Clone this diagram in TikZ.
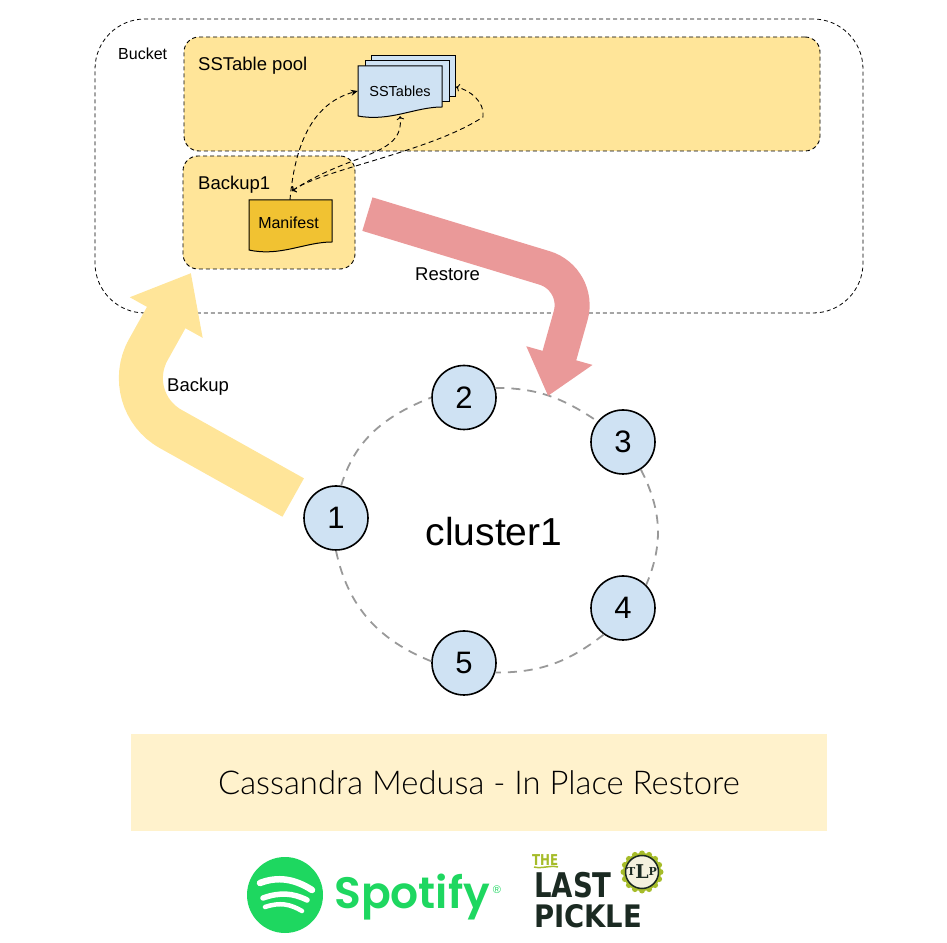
\documentclass[tikz,border=0pt]{standalone}
\usepackage{fontspec}
\setmainfont{Liberation Sans}
\newfontfamily\titlefont{Lato Light}
\newfontfamily\logofont{Poppins SemiBold}
\newfontfamily\picklefont{DejaVu Sans}
\newfontfamily\badgefont{DejaVu Serif}
\usetikzlibrary{arrows.meta}
\definecolor{poolyellow}{HTML}{FFE599}
\definecolor{restorered}{HTML}{EA9999}
\definecolor{nodeblue}{HTML}{CFE2F3}
\definecolor{manifestgold}{HTML}{F1C232}
\definecolor{bandcream}{HTML}{FFF2CC}
\definecolor{ringgrey}{HTML}{999999}
\definecolor{spotifygreen}{HTML}{1ED760}
\definecolor{pickledark}{HTML}{1B2A22}
\definecolor{pickleolive}{HTML}{A6BC2A}
\definecolor{badgecream}{HTML}{F4F1DE}
\tikzset{
  groupbox/.style={draw, dashed, dash pattern=on 4pt off 3pt, line width=0.9pt, rounded corners=15pt, fill=poolyellow},
  ringnode/.style={draw, circle, line width=1.6pt, fill=nodeblue, minimum size=64pt, inner sep=0pt, font=\fontsize{31}{31}\selectfont},
  ringline/.style={draw=ringgrey, line width=1.8pt, dash pattern=on 9pt off 7pt},
  docline/.style={draw, line width=1pt},
  refline/.style={draw, line width=0.9pt, dash pattern=on 5pt off 3.5pt, -{Stealth[length=7pt,width=6pt]}},
  plaintext/.style={inner sep=0pt, anchor=west, font=\fontsize{18.5}{18.5}\selectfont},
  picklebig/.style={inner sep=0pt, anchor=west, transform shape, text=pickledark}
}
\begin{document}
\begin{tikzpicture}[x=1pt,y=1pt]
\useasboundingbox (0,0) rectangle (947,942);

% bucket and its groups
\node[draw, dash pattern=on 4pt off 3pt, line width=0.8pt, rounded corners=50pt, minimum width=768pt, minimum height=294pt, inner sep=0pt] (bucket) at (479,776) {};
\node[groupbox, minimum width=636pt, minimum height=114pt, inner sep=0pt] (pool) at (502,848) {};
\node[groupbox, minimum width=172pt, minimum height=113pt, inner sep=0pt] (backup) at (269,729.5) {};
\node[plaintext, font=\fontsize{16}{16}\selectfont] (bucketlabel) at (118,888) {Bucket};
\node[plaintext] (poollabel) at (198,876.5) {SSTable pool};
\node[plaintext] (backuplabel) at (198,757) {Backup1};

% documents
\path[docline, fill=nodeblue] (371,886) -- (455,886) -- (455,845) -- (371,845) -- cycle;
\path[docline, fill=nodeblue] (365,881) -- (449,881) -- (449,840) -- (365,840) -- cycle;
\path[docline, fill=nodeblue] (358,876) -- (442,876) -- (442,835) .. controls (415,835) and (390,820) .. (358,826) -- cycle;
\node[minimum width=84pt, minimum height=50pt, inner sep=0pt, font=\fontsize{14.5}{14.5}\selectfont] (sstables) at (400,851) {SSTables};
\path[docline, fill=manifestgold] (249,742) -- (332,742) -- (332,700) .. controls (305,700) and (280,685) .. (249,692) -- cycle;
\node[minimum width=80pt, minimum height=45pt, inner sep=0pt, font=\fontsize{16}{16}\selectfont] (manifest) at (288.5,719.5) {Manifest};

\coordinate (fan) at (292,751);
\coordinate (sheetend) at (456,855);
\draw[refline] ([xshift=1.5pt]manifest.north) to[out=85,in=195] (sstables.west);
\draw[refline, <->] (fan) .. controls (350,790) and (405,785) .. (sstables.south);
\draw[refline, <->] (fan) .. controls (320,772) and (430,790) .. (483,825) .. controls (485,840) and (470,852) .. (sheetend);

% ring
\node[ringnode] (n1) at (336,424) {1};
\node[ringnode] (n2) at (464,544.5) {2};
\node[ringnode] (n3) at (623,500) {3};
\node[ringnode] (n4) at (623,334) {4};
\node[ringnode] (n5) at (464,279) {5};
\draw[ringline] (n1.81) to[out=73,in=202] (n2.180);
\draw[ringline] (n2.17) to[out=0,in=146] (n3.141);
\draw[ringline] (n3.303) to[out=-63,in=67] (n4.45);
\draw[ringline] (n4.234) to[out=218,in=0] (n5.343);
\draw[ringline] (n5.177) to[out=158,in=282] (n1.270);
\node[font=\fontsize{39}{39}\selectfont, inner sep=0pt] (cluster) at (494,410.5) {cluster1};

% big arrows
\coordinate (backuptip) at (191,669);
\coordinate (restoretip) at (548,546);
\draw[draw=poolyellow, line width=44pt, rounded corners=58pt, shorten <=16.5pt, -{Triangle[length=51pt,width=80pt]}] ([yshift=-4pt]n1.150) -- (120,541.4) -- (backuptip);
\draw[draw=restorered, line width=35pt, rounded corners=38pt, shorten <=12.5pt, -{Triangle[length=42pt,width=66pt]}] ([yshift=2pt]backup.east) -- (581,663) -- (restoretip);
\node[plaintext] (backuptext) at (167,555.5) {Backup};
\node[plaintext] (restoretext) at (415,668) {Restore};

% title
\node[fill=bandcream, minimum width=696pt, minimum height=97pt, inner sep=0pt, font=\titlefont\fontsize{32.8}{32.8}\selectfont] (title) at (479,159.5) {Cassandra Medusa - In Place Restore};

% spotify logo
\node[circle, fill=spotifygreen, minimum size=76pt, inner sep=0pt] (spotifylogo) at (285,47) {};
\draw[white, line width=6.5pt, line cap=round] (260,59) .. controls (278,66) and (295,63) .. (312,52);
\draw[white, line width=5.5pt, line cap=round] (263,44) .. controls (280,50) and (293,49) .. (307,42);
\draw[white, line width=4.5pt, line cap=round] (265,35) .. controls (280,40) and (290,38) .. (302,31);
\node[anchor=base west, inner sep=0pt, text=spotifygreen, font=\logofont\fontsize{44}{44}\selectfont] (spotifytext) at (334,34) {Spotify};
\node[inner sep=0pt, text=spotifygreen, font=\fontsize{11}{11}\selectfont] (spotifyreg) at (497,52) {®};

% pickle logo
\node[inner sep=0pt, anchor=west, text=pickleolive, font=\picklefont\bfseries\fontsize{15}{15}\selectfont, xscale=0.79, transform shape] (thetext) at (532,82) {THE};
\draw[pickleolive, line width=1.5pt] (534,75) .. controls (542,73) and (550,77) .. (558,75);
\node[picklebig, font=\picklefont\bfseries\fontsize{34}{34}\selectfont, xscale=0.81] (lasttext) at (534,56.5) {LAST};
\node[picklebig, font=\picklefont\bfseries\fontsize{31}{31}\selectfont, xscale=0.885] (pickletext) at (534,26) {PICKLE};
\fill[pickleolive] (642,70) circle (19pt);
\foreach \a in {0,22.5,...,337.5} {
  \fill[pickleolive] (642,70) ++(\a:18.5pt) circle (3pt);
}
\node[circle, draw=pickledark, line width=1.5pt, fill=badgecream, minimum size=33pt, inner sep=0pt, text=pickledark, font=\badgefont\bfseries\fontsize{11}{11}\selectfont] (badge) at (642,70) {T\raisebox{-3pt}{\fontsize{19}{19}\selectfont L}P};
\end{tikzpicture}
\end{document}
